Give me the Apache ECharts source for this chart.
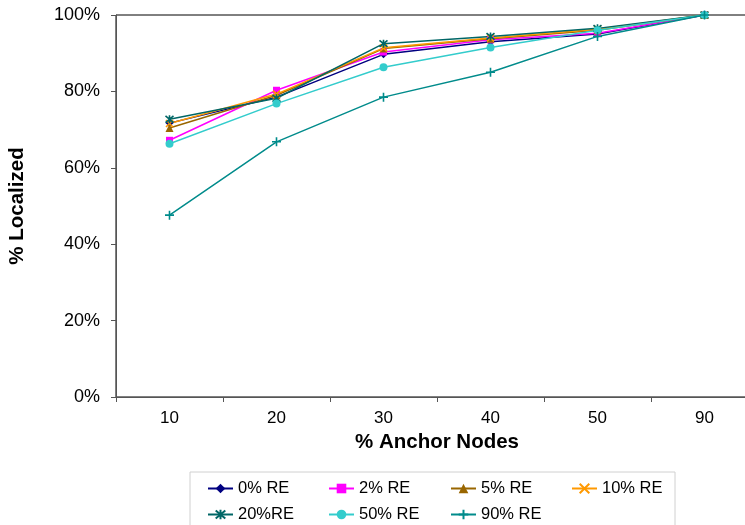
<!DOCTYPE html>
<html>
<head>
<meta charset="utf-8">
<script src="https://cdn.jsdelivr.net/npm/echarts@6/dist/echarts.min.js"></script>
<style>
  html, body { margin: 0; padding: 0; background: #fff; }
  #chart { width: 745px; height: 525px; }
</style>
</head>
<body>
<div id="chart"></div>
<script>
// Share of nodes localized (%) by share of anchor nodes, per ranging-error level
const anchorNodes = ['10', '20', '30', '40', '50', '90'];
const re0  = [71.7, 78.5, 89.7, 93.0, 95.0, 100];
const re2  = [67.2, 80.3, 90.3, 93.5, 95.2, 100];
const re5  = [70.4, 79.0, 91.2, 93.8, 96.0, 100];
const re10 = [71.6, 79.3, 91.4, 94.0, 96.3, 100];
const re20 = [72.7, 78.2, 92.5, 94.4, 96.5, 100];
const re50 = [66.3, 76.8, 86.3, 91.5, 96.0, 100];
const re90 = [47.6, 66.8, 78.5, 85.0, 94.4, 100];
const yTicks = [0, 20, 40, 60, 80, 100];

const seriesDefs = [
  { name: '0% RE',  data: re0,  color: '#000080', symbol: 'diamond', size: 8 },
  { name: '2% RE',  data: re2,  color: '#FF00FF', symbol: 'rect', size: 7 },
  { name: '5% RE',  data: re5,  color: '#996600', symbol: 'triangle', size: 8 },
  { name: '10% RE', data: re10, color: '#FF9900', symbol: 'path://M0,0L10,10M10,0L0,10', size: 7, stroke: true },
  { name: '20%RE',  data: re20, color: '#006666', symbol: 'path://M0,0L10,10M10,0L0,10M5,-1L5,11', size: 8, stroke: true },
  { name: '50% RE', data: re50, color: '#33CCCC', symbol: 'circle', size: 8 },
  { name: '90% RE', data: re90, color: '#008B8B', symbol: 'path://M0,5L10,5M5,0L5,10', size: 9, stroke: true }
];

const font = 'Arial, "Liberation Sans", sans-serif';

const series = seriesDefs.map(d => ({
  name: d.name,
  type: 'line',
  data: d.data,
  symbol: d.symbol,
  symbolSize: d.size,
  showAllSymbol: true,
  lineStyle: { color: d.color, width: 1.5 },
  itemStyle: d.stroke
    ? { color: 'none', borderColor: d.color, borderWidth: 1.6 }
    : { color: d.color, borderColor: d.color, borderWidth: 0 },
  emphasis: { disabled: true },
  animation: false
}));

// One legend block per entry so the two rows line up in columns
const legendCols = [207, 328, 450, 571];
const legendRows = [480, 506];
const legends = seriesDefs.map((d, i) => ({
  data: [d.name],
  left: legendCols[i % 4],
  top: legendRows[Math.floor(i / 4)],
  padding: 0,
  itemWidth: 25,
  itemHeight: 12,
  itemGap: 4,
  textStyle: { fontFamily: font, fontSize: 16.5, color: '#000' },
  selectedMode: false
}));

const chart = echarts.init(document.getElementById('chart'), null, { renderer: 'canvas' });
chart.setOption({
  backgroundColor: '#fff',
  animation: false,
  grid: {
    left: 116, top: 15, width: 642, bottom: 128,
    outerBoundsMode: 'none',
    containLabel: false,
    show: true, borderColor: '#000', borderWidth: 1, backgroundColor: '#fff'
  },
  legend: legends,
  xAxis: {
    type: 'category',
    data: anchorNodes,
    boundaryGap: true,
    name: '% Anchor Nodes',
    nameLocation: 'middle',
    nameGap: 32,
    nameTextStyle: { fontFamily: font, fontSize: 20.5, fontWeight: 'bold', color: '#000' },
    axisLine: { lineStyle: { color: '#555', width: 1 } },
    axisTick: { show: true, length: 5, lineStyle: { color: '#555' } },
    axisLabel: { fontFamily: font, fontSize: 17, color: '#000', margin: 13 },
    splitLine: { show: false }
  },
  yAxis: {
    type: 'value',
    min: yTicks[0],
    max: yTicks[yTicks.length - 1],
    interval: yTicks[1] - yTicks[0],
    name: '% Localized',
    nameLocation: 'middle',
    nameGap: 88,
    nameTextStyle: { fontFamily: font, fontSize: 20.5, fontWeight: 'bold', color: '#000' },
    axisLine: { show: true, lineStyle: { color: '#555', width: 1 } },
    axisTick: { show: true, length: 5, lineStyle: { color: '#555' } },
    axisLabel: { fontFamily: font, fontSize: 18, color: '#000', margin: 16, formatter: v => v + '%' },
    splitLine: { show: false }
  },
  graphic: [{
    type: 'rect',
    z: -1,
    shape: { x: 190, y: 472, width: 485, height: 70 },
    style: { fill: '#fff', stroke: '#d0d0d0', lineWidth: 1 }
  }],
  series: series
});
</script>
</body>
</html>
